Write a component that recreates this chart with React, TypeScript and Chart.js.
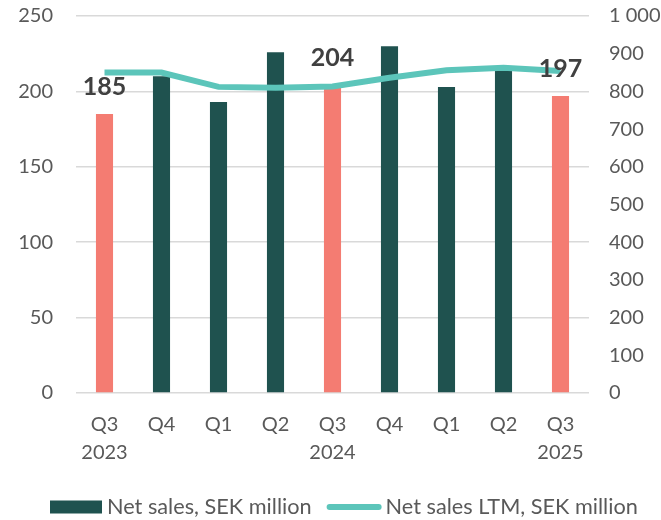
import React, { useEffect, useRef } from "react";
import { Chart, registerables } from "chart.js";

Chart.register(...registerables);

const categories: (string | string[])[] = [
  ["Q3", "2023"], "Q4", "Q1", "Q2", ["Q3", "2024"], "Q4", "Q1", "Q2", ["Q3", "2025"],
];
const netSales = [185, 210, 193, 226, 204, 230, 203, 214, 197];
const netSalesLTM = [850, 850, 812, 810, 813, 836, 856, 863, 854];
const highlighted = [true, false, false, false, true, false, false, false, true];
const leftTicks = [0, 50, 100, 150, 200, 250];
const rightTicks = [0, 100, 200, 300, 400, 500, 600, 700, 800, 900, 1000];
const seriesNames = ["Net sales, SEK million", "Net sales LTM, SEK million"];

const DARK = "#1F524F";
const RED = "#F47C72";
const TEAL = "#5CC5BA";
const TICK = "#595959";
const FONT = "Lato, 'Open Sans', sans-serif";

const fmtSpace = (v: number) => String(v).replace(/\B(?=(\d{3})+(?!\d))/g, " ");

const labelPlugin = {
  id: "customLabels",
  afterDraw(chart: any) {
    const ctx = chart.ctx;
    ctx.save();
    // data labels on highlighted bars
    const meta = chart.getDatasetMeta(0);
    ctx.font = `bold 25px ${FONT}`;
    ctx.fillStyle = "#404040";
    ctx.textAlign = "center";
    ctx.textBaseline = "middle";
    meta.data.forEach((bar: any, i: number) => {
      if (!highlighted[i]) return;
      ctx.fillText(String(netSales[i]), bar.x, bar.y - 27);
    });
    // legend
    const y = 507;
    ctx.font = `21.7px ${FONT}`;
    ctx.textAlign = "left";
    ctx.textBaseline = "middle";
    const w1 = ctx.measureText(seriesNames[0]).width;
    const boxW = 52, lineW = 55, gapBox = 5, gapItems = 15, gapLine = 4;
    let x = 50;
    ctx.fillStyle = DARK;
    ctx.fillRect(x, y - 6.5, boxW, 13);
    x += boxW + gapBox;
    ctx.fillStyle = TICK;
    ctx.fillText(seriesNames[0], x, y);
    x += w1 + gapItems;
    ctx.strokeStyle = TEAL;
    ctx.lineWidth = 6;
    ctx.lineCap = "round";
    ctx.beginPath();
    ctx.moveTo(x + 3, y);
    ctx.lineTo(x + lineW - 3, y);
    ctx.stroke();
    x += lineW + gapLine;
    ctx.fillStyle = TICK;
    ctx.fillText(seriesNames[1], x, y);
    ctx.restore();
  },
};

export default function App() {
  const ref = useRef<HTMLCanvasElement>(null);
  useEffect(() => {
    if (!ref.current) return;
    const chart = new Chart(ref.current, {
      type: "bar",
      data: {
        labels: categories,
        datasets: [
          {
            type: "bar",
            label: seriesNames[0],
            data: netSales,
            backgroundColor: netSales.map((_, i) => (highlighted[i] ? RED : DARK)),
            yAxisID: "y",
            barPercentage: 0.3,
            categoryPercentage: 1,
            order: 2,
          },
          {
            type: "line",
            label: seriesNames[1],
            data: netSalesLTM,
            borderColor: TEAL,
            backgroundColor: TEAL,
            borderWidth: 6,
            pointRadius: 0,
            tension: 0,
            yAxisID: "y1",
            order: 1,
          } as any,
        ],
      },
      options: {
        animation: false,
        responsive: false,
        maintainAspectRatio: false,
        layout: { padding: { top: 16, left: 0, right: 0, bottom: 0 } },
        plugins: { legend: { display: false }, tooltip: { enabled: false } },
        scales: {
          x: {
            grid: { display: false, drawTicks: false },
            border: { display: false },
            ticks: {
              color: TICK,
              font: { family: FONT, size: 20, lineHeight: 1.4 },
              padding: 18,
              maxRotation: 0,
              autoSkip: false,
            },
            afterFit: (s: any) => { s.height = 127; },
          },
          y: {
            position: "left",
            min: 0,
            max: 250,
            afterBuildTicks: (s: any) => { s.ticks = leftTicks.map((v) => ({ value: v })); },
            grid: { color: "#D9D9D9", lineWidth: 1.5, drawTicks: false },
            border: { display: false },
            ticks: { color: TICK, font: { family: FONT, size: 20 }, padding: 23 },
            afterFit: (s: any) => { s.width = 76; s.paddingTop = 0; s.paddingBottom = 0; },
          },
          y1: {
            position: "right",
            min: 0,
            max: 1000,
            afterBuildTicks: (s: any) => { s.ticks = rightTicks.map((v) => ({ value: v })); },
            grid: { display: false, drawTicks: false },
            border: { display: false },
            ticks: {
              color: TICK,
              font: { family: FONT, size: 20 },
              padding: 20,
              callback: (v: any) => fmtSpace(Number(v)),
            },
            afterFit: (s: any) => { s.width = 72; s.paddingTop = 0; s.paddingBottom = 0; },
          },
        },
      },
      plugins: [labelPlugin],
    });
    return () => chart.destroy();
  }, []);
  return (
    <div style={{ position: "fixed", left: 0, top: 0, width: 661, height: 520, background: "#fff" }}>
      <canvas ref={ref} width={661} height={520} style={{ width: 661, height: 520 }} />
    </div>
  );
}
